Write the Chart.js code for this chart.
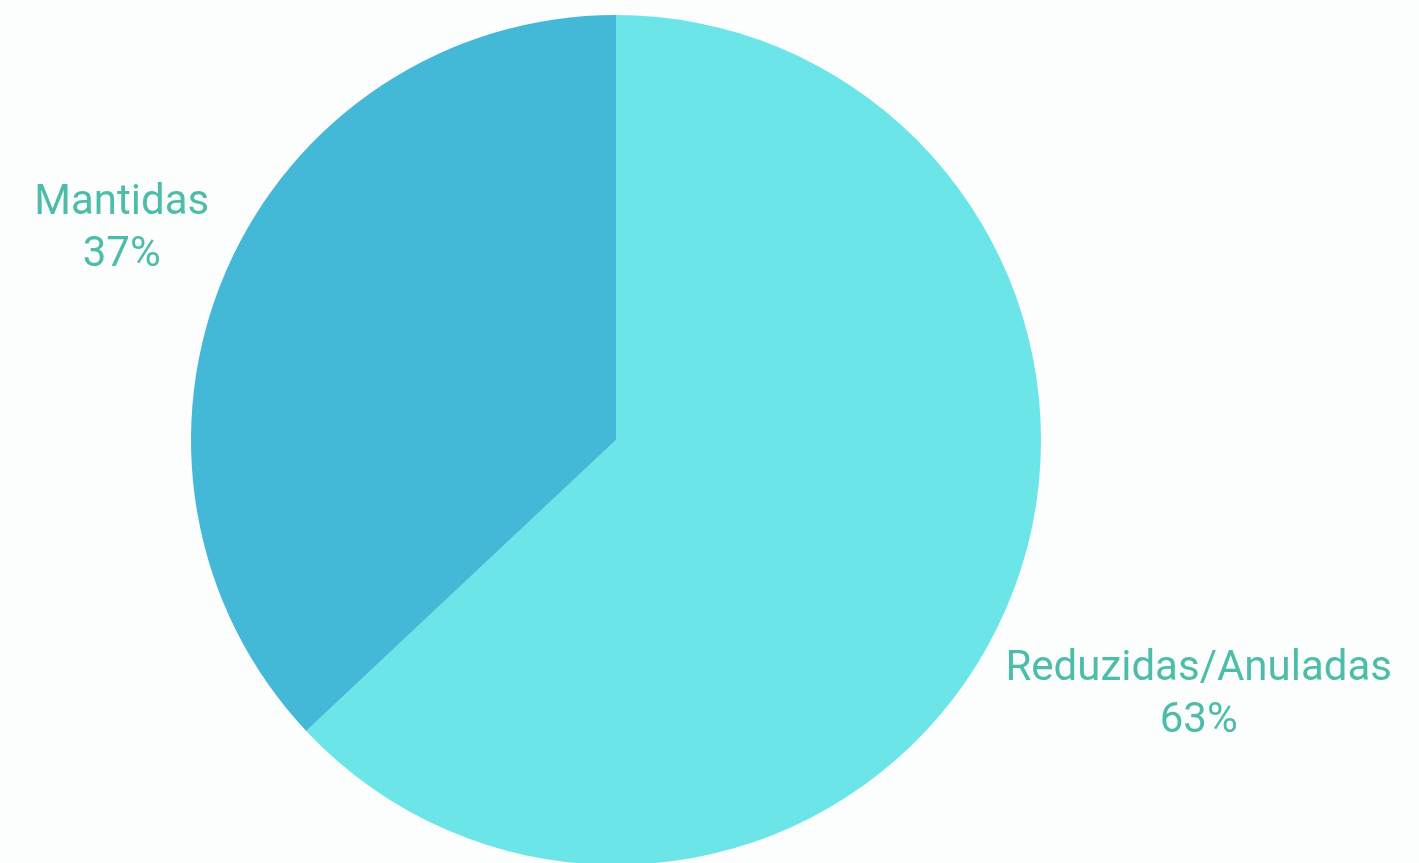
<!DOCTYPE html>
<html lang="pt">
<head>
    <meta charset="UTF-8">
    <title>Mantidas vs Reduzidas/Anuladas</title>
    <script src="https://cdn.jsdelivr.net/npm/chart.js"></script>
    <style>
        html, body { margin: 0; padding: 0; background: #fcfefe; overflow: hidden; }
        #wrap { width: 1419px; height: 866px; position: relative; }
    </style>
</head>
<body>
    <div id="wrap"><canvas id="pieChart"></canvas></div>

    <script>
        // chart data
        const categories = ['Reduzidas/Anuladas', 'Mantidas'];
        const shares = [63, 37];
        const sliceColors = ['#6ce5e9', '#43b8d7'];

        // draws "name / pct%" outside each slice
        const outsideLabels = {
            id: 'outsideLabels',
            afterDraw(chart) {
                const ctx = chart.ctx;
                const meta = chart.getDatasetMeta(0);
                ctx.save();
                ctx.fillStyle = '#4dbdaa';
                ctx.font = '400 42px Roboto';
                ctx.textAlign = 'center';
                ctx.textBaseline = 'middle';
                meta.data.forEach((arc, i) => {
                    const p = arc.getProps(['x', 'y', 'startAngle', 'endAngle', 'outerRadius'], true);
                    const mid = (p.startAngle + p.endAngle) / 2;
                    const w = ctx.measureText(categories[i]).width;
                    const d = p.outerRadius + 34 + (w / 2) * 0.91;
                    const cx = p.x + Math.cos(mid) * d;
                    const cy = p.y + Math.sin(mid) * d + 3;
                    ctx.fillText(categories[i], cx, cy - 26);
                    ctx.fillText(shares[i] + '%', cx, cy + 26);
                });
                ctx.restore();
            }
        };

        document.addEventListener('DOMContentLoaded', () => {
            new Chart(document.getElementById('pieChart'), {
                type: 'pie',
                data: {
                    labels: categories,
                    datasets: [{
                        data: shares,
                        backgroundColor: sliceColors,
                        borderWidth: 0
                    }]
                },
                options: {
                    responsive: true,
                    maintainAspectRatio: false,
                    animation: false,
                    layout: { padding: { top: 15, bottom: 1, left: 0, right: 187 } },
                    plugins: {
                        legend: { display: false },
                        tooltip: { enabled: false }
                    }
                },
                plugins: [outsideLabels]
            });
        });
    </script>
</body>
</html>
